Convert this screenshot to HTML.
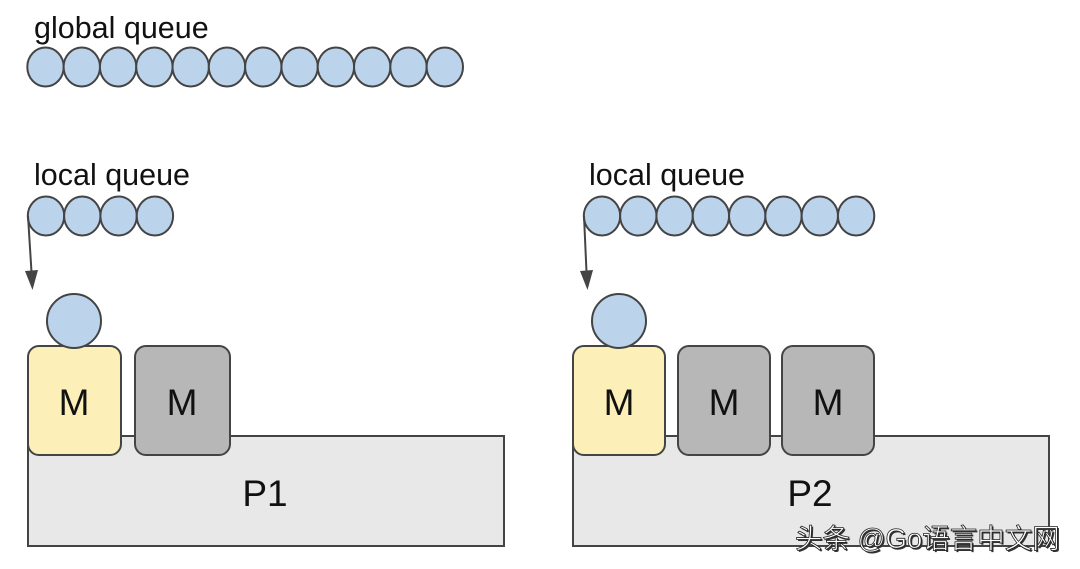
<!DOCTYPE html>
<html><head><meta charset="utf-8"><style>body{margin:0;background:#fff}svg{display:block}</style></head><body>
<svg width="1080" height="569" xmlns="http://www.w3.org/2000/svg" font-family="Liberation Sans, sans-serif">
<text x="34" y="38" font-size="30.5" fill="#111">global queue</text>
<g fill="#bcd3ec" stroke="#444" stroke-width="2">
<ellipse cx="45.5" cy="67" rx="18.2" ry="19.5"/><ellipse cx="81.8" cy="67" rx="18.2" ry="19.5"/><ellipse cx="118.1" cy="67" rx="18.2" ry="19.5"/><ellipse cx="154.4" cy="67" rx="18.2" ry="19.5"/><ellipse cx="190.7" cy="67" rx="18.2" ry="19.5"/><ellipse cx="227" cy="67" rx="18.2" ry="19.5"/><ellipse cx="263.3" cy="67" rx="18.2" ry="19.5"/><ellipse cx="299.6" cy="67" rx="18.2" ry="19.5"/><ellipse cx="335.9" cy="67" rx="18.2" ry="19.5"/><ellipse cx="372.2" cy="67" rx="18.2" ry="19.5"/><ellipse cx="408.5" cy="67" rx="18.2" ry="19.5"/><ellipse cx="444.8" cy="67" rx="18.2" ry="19.5"/>
</g>
<text x="34" y="185" font-size="30.5" fill="#111">local queue</text>
<text x="589" y="185" font-size="30.5" fill="#111">local queue</text>
<g fill="#bcd3ec" stroke="#444" stroke-width="2">
<ellipse cx="46" cy="216" rx="18.2" ry="19.5"/><ellipse cx="82.3" cy="216" rx="18.2" ry="19.5"/><ellipse cx="118.6" cy="216" rx="18.2" ry="19.5"/><ellipse cx="154.9" cy="216" rx="18.2" ry="19.5"/>
<ellipse cx="602" cy="216" rx="18.2" ry="19.5"/><ellipse cx="638.3" cy="216" rx="18.2" ry="19.5"/><ellipse cx="674.6" cy="216" rx="18.2" ry="19.5"/><ellipse cx="710.9" cy="216" rx="18.2" ry="19.5"/><ellipse cx="747.2" cy="216" rx="18.2" ry="19.5"/><ellipse cx="783.5" cy="216" rx="18.2" ry="19.5"/><ellipse cx="819.8" cy="216" rx="18.2" ry="19.5"/><ellipse cx="856.1" cy="216" rx="18.2" ry="19.5"/>
</g>
<line x1="28" y1="216" x2="31.5" y2="272" stroke="#444" stroke-width="2"/>
<polygon points="25,271 38,270 32.5,290" fill="#444"/>
<line x1="584" y1="216" x2="586.5" y2="272" stroke="#444" stroke-width="2"/>
<polygon points="580,271 593,270 587.5,290" fill="#444"/>
<g stroke="#444" stroke-width="2">
<rect x="28" y="436" width="476" height="110" fill="#e8e8e8"/>
<rect x="573" y="436" width="476" height="110" fill="#e8e8e8"/>
<rect x="28" y="346" width="93" height="109" rx="11" fill="#fdefb8"/>
<rect x="135" y="346" width="95" height="109" rx="11" fill="#b7b7b7"/>
<rect x="573" y="346" width="92" height="109" rx="11" fill="#fdefb8"/>
<rect x="678" y="346" width="92" height="109" rx="11" fill="#b7b7b7"/>
<rect x="782" y="346" width="92" height="109" rx="11" fill="#b7b7b7"/>
<circle cx="74" cy="321" r="27" fill="#bcd3ec"/>
<circle cx="619" cy="321" r="27" fill="#bcd3ec"/>
</g>
<g font-size="37" fill="#111" text-anchor="middle">
<text x="74" y="415">M</text><text x="182" y="415">M</text>
<text x="619" y="415">M</text><text x="724" y="415">M</text><text x="828" y="415">M</text>
<text x="265" y="506">P1</text><text x="810" y="506">P2</text>
</g>
<text x="795" y="548" font-size="27.5" fill="#333" font-family="Liberation Sans, Noto Sans CJK SC, sans-serif" transform="translate(1.5,1.5)">头条 @Go语言中文网</text>
<text x="795" y="548" font-size="27.5" fill="#fff" stroke="#222" stroke-width="0.8" font-family="Liberation Sans, Noto Sans CJK SC, sans-serif">头条 @Go语言中文网</text>
</svg>
</body></html>
